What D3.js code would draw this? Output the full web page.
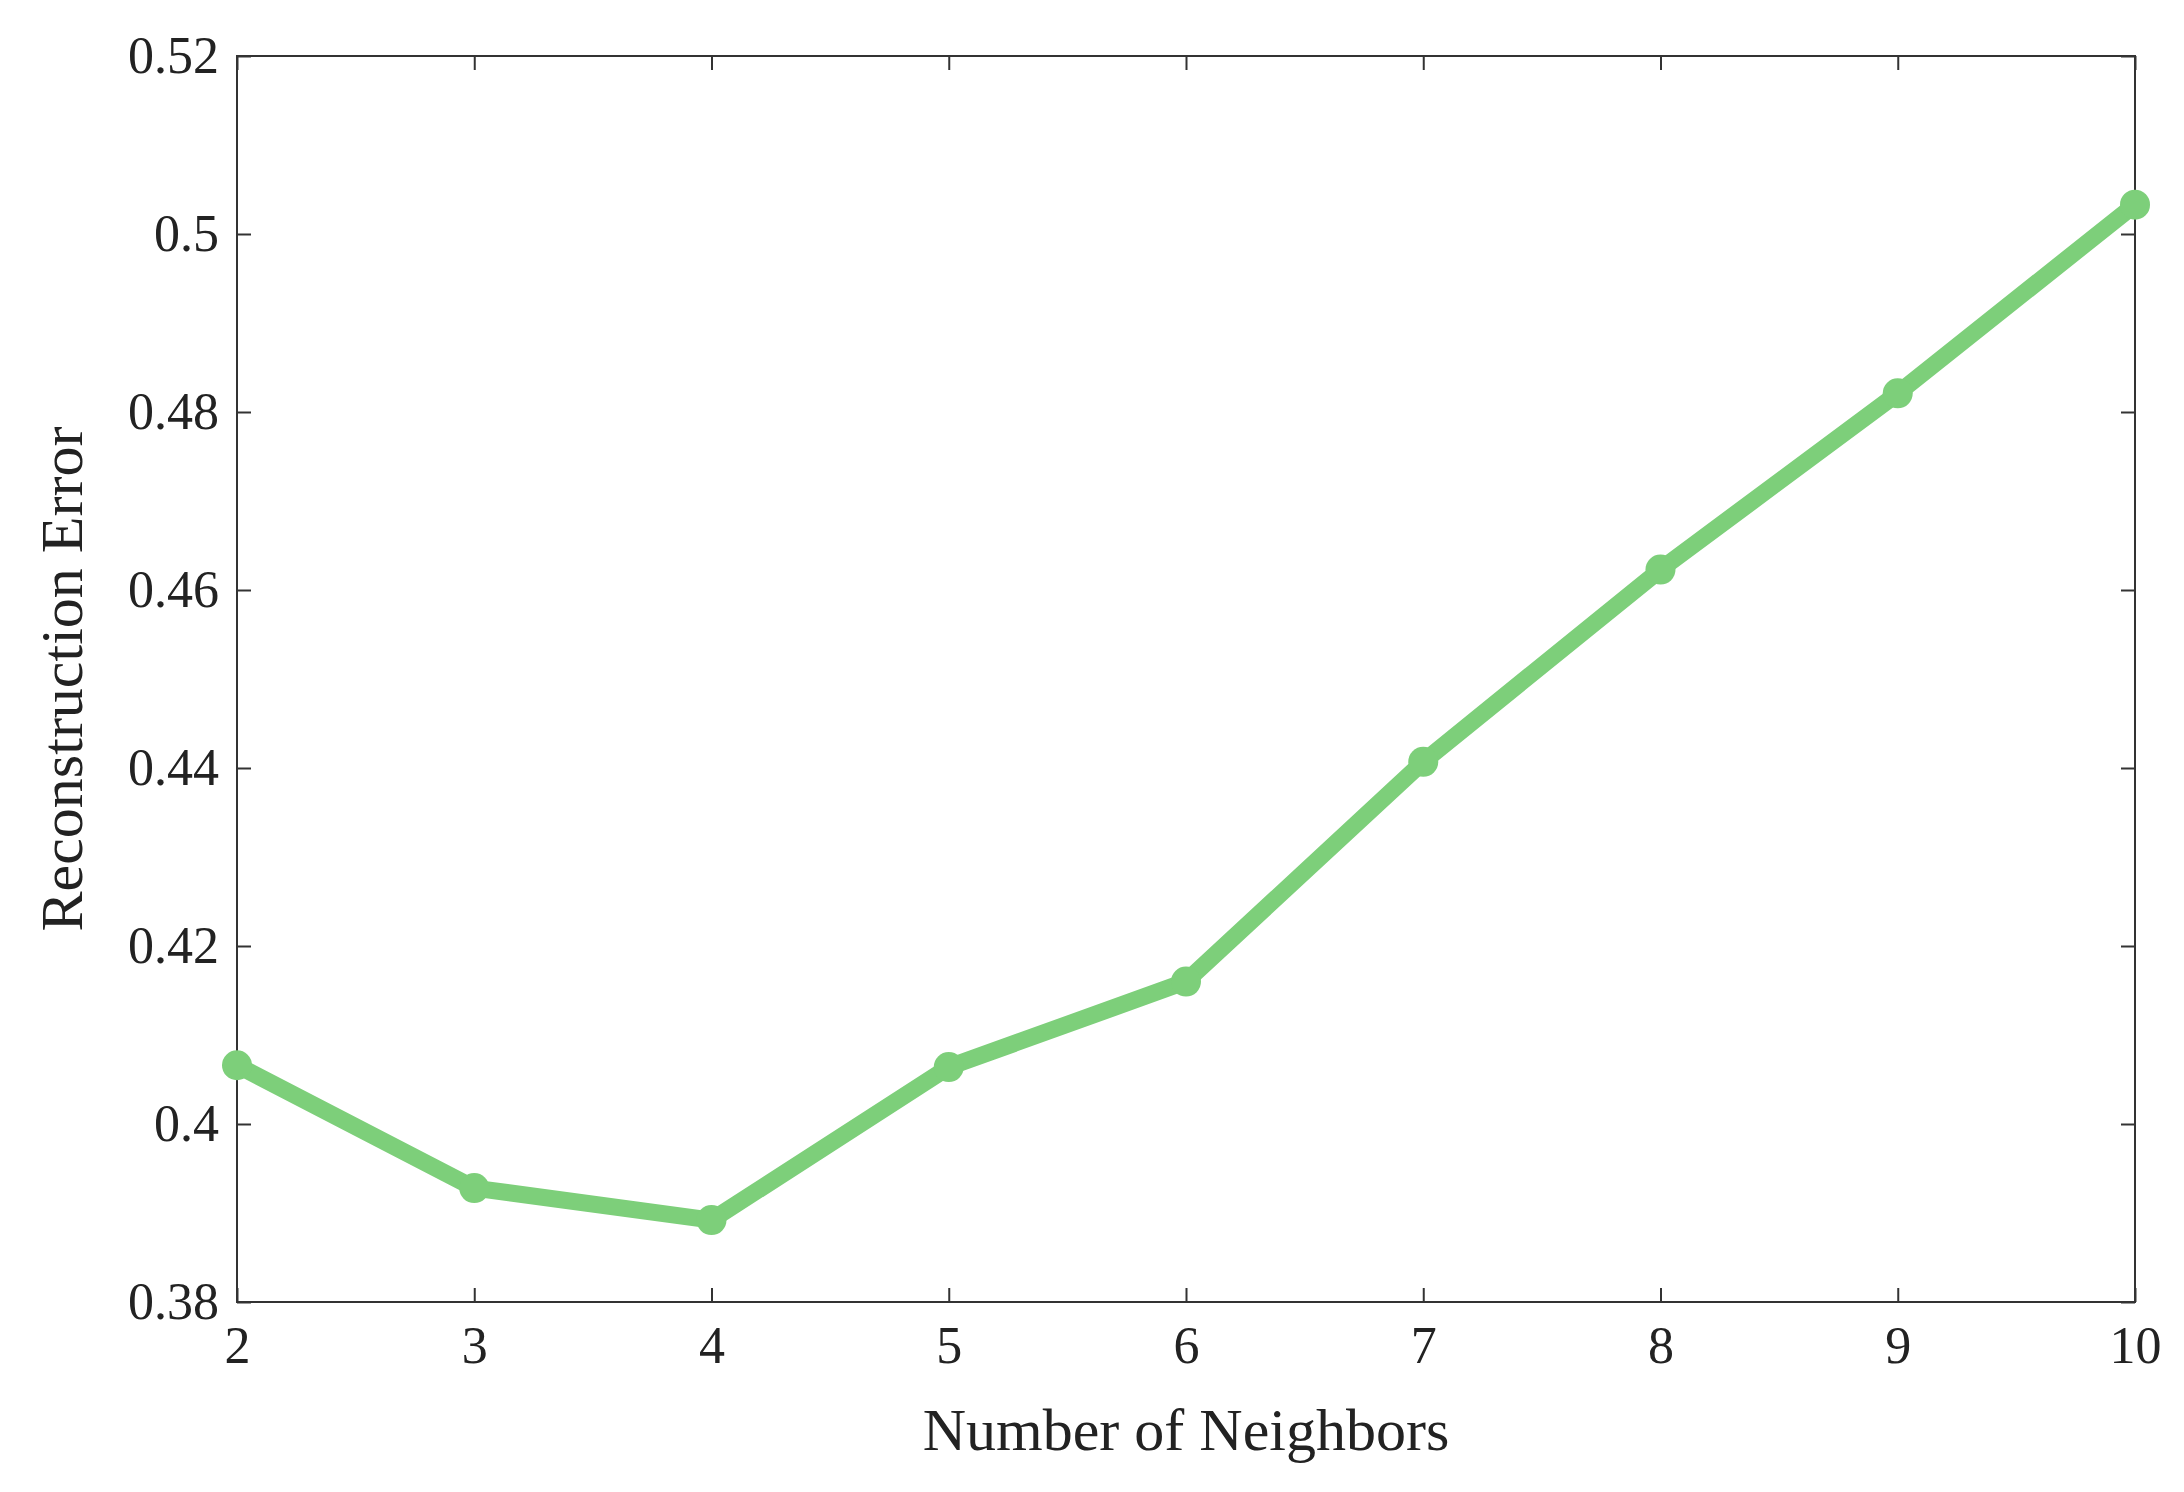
<!DOCTYPE html>
<html><head><meta charset="utf-8">
<script src="https://cdn.jsdelivr.net/npm/d3@7"></script>
<style>body{margin:0;background:#fff}text{font-family:"Liberation Serif","Times New Roman",serif;fill:#222}</style>
</head><body>
<svg id="c" width="2184" height="1492"></svg>
<script>
const neighbors=[2,3,4,5,6,7,8,9,10];
const errors=[0.4066,0.3928,0.3892,0.4064,0.4160,0.4407,0.4623,0.4821,0.5033];
const yTicks=[0.38,0.4,0.42,0.44,0.46,0.48,0.5,0.52];
const yLabels=["0.38","0.4","0.42","0.44","0.46","0.48","0.5","0.52"];
const svg=d3.select("#c");
const L=237,R=2135,T=56,B=1302;
const x=d3.scaleLinear().domain([2,10]).range([L,R]);
const y=d3.scaleLinear().domain([0.38,0.52]).range([B,T]);
const tk=14,col="#333";
const fs=52;
svg.append("g").attr("transform",`translate(0,${B})`).call(d3.axisBottom(x).tickValues(neighbors).tickSize(-tk).tickPadding(24).tickFormat(d3.format("d")))
 .call(g=>{g.select(".domain").remove();g.selectAll("line").attr("stroke",col).attr("stroke-width",2);g.selectAll("text").attr("font-size",fs).style("font-family","Liberation Serif")});
svg.append("g").attr("transform",`translate(0,${T})`).call(d3.axisTop(x).tickValues(neighbors).tickSize(-tk).tickFormat(""))
 .call(g=>{g.select(".domain").remove();g.selectAll("line").attr("stroke",col).attr("stroke-width",2)});
svg.append("g").attr("transform",`translate(${L},0)`).call(d3.axisLeft(y).tickValues(yTicks).tickSize(-tk).tickPadding(18).tickFormat((d,i)=>yLabels[i]))
 .call(g=>{g.select(".domain").remove();g.selectAll("line").attr("stroke",col).attr("stroke-width",2);g.selectAll("text").attr("font-size",fs).style("font-family","Liberation Serif")});
svg.append("g").attr("transform",`translate(${R},0)`).call(d3.axisRight(y).tickValues(yTicks).tickSize(-tk).tickFormat(""))
 .call(g=>{g.select(".domain").remove();g.selectAll("line").attr("stroke",col).attr("stroke-width",2)});
svg.append("rect").attr("x",L).attr("y",T).attr("width",R-L).attr("height",B-T).attr("fill","none").attr("stroke",col).attr("stroke-width",2);
const data=neighbors.map((n,i)=>[n,errors[i]]);
svg.append("path").datum(data).attr("d",d3.line().x(d=>x(d[0])).y(d=>y(d[1]))).attr("fill","none").attr("stroke","#7dcf7a").attr("stroke-width",17).attr("stroke-linejoin","round");
svg.selectAll("circle").data(data).join("circle").attr("cx",d=>x(d[0])).attr("cy",d=>y(d[1])).attr("r",15).attr("fill","#7dcf7a");
svg.append("text").attr("x",(L+R)/2).attr("y",1450).attr("text-anchor","middle").attr("font-size",60).text("Number of Neighbors");
svg.append("text").attr("transform",`translate(82,${(T+B)/2}) rotate(-90)`).attr("text-anchor","middle").attr("font-size",60).text("Reconstruction Error");
</script></body></html>
